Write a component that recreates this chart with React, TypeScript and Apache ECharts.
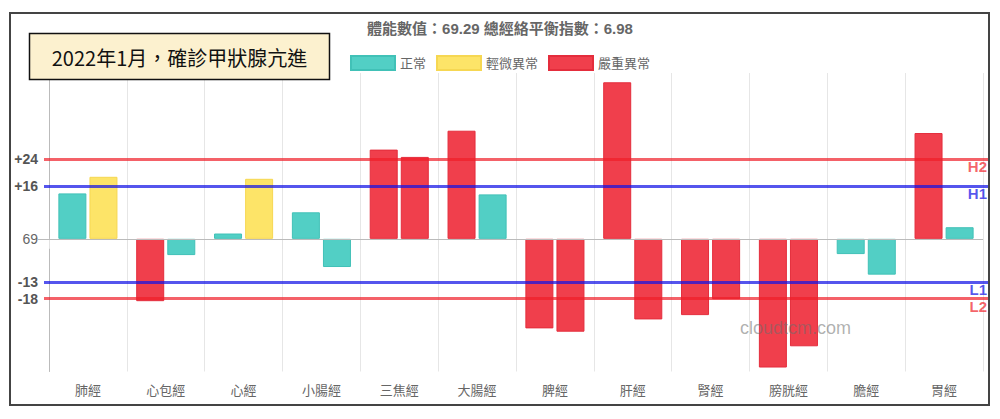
import React, { useEffect, useRef } from 'react';
import * as echarts from 'echarts';

const categories = ['肺經', '心包經', '心經', '小腸經', '三焦經', '大腸經', '脾經', '肝經', '腎經', '膀胱經', '膽經', '胃經'];
const leftValues = [13.7, -18.8, 1.6, 8.0, 26.9, 32.6, -27.0, 47.2, -23.0, -38.8, -4.6, 31.9];
const rightValues = [18.7, -4.9, 18.1, -8.5, 24.7, 13.4, -28.0, -24.3, -18.2, -32.4, -10.8, 3.5];
// 0 = 正常, 1 = 輕微異常, 2 = 嚴重異常
const leftStatus = [0, 2, 0, 0, 2, 2, 2, 2, 2, 2, 0, 2];
const rightStatus = [1, 0, 1, 0, 2, 0, 2, 2, 2, 2, 0, 0];
const statusNames = ['正常', '輕微異常', '嚴重異常'];
const statusColors = ['#52cfc5', '#fde468', '#f03f4c'];
const statusBorders = ['#41c1b7', '#f6d752', '#e42d3c'];
const thresholdValues = [24, 16, -13, -18];
const thresholdNames = ['H2', 'H1', 'L1', 'L2'];
const thresholdColors = ['rgba(240,30,40,0.7)', 'rgba(20,20,230,0.72)', 'rgba(20,20,230,0.72)', 'rgba(240,30,40,0.7)'];
const yTickValues = [-18, -13, 0, 16, 24];
const baseLabel = '69';
const headerText = '體能數值：69.29 總經絡平衡指數：6.98';
const boxText = '2022年1月，確診甲狀腺亢進';
const watermarkText = 'cloudtcm.com';
const yMin = -40;
const yMax = 50;

const FONT = "'Liberation Sans', Arial, 'Noto Sans CJK TC', sans-serif";

export default function App() {
  const ref = useRef<HTMLDivElement>(null);

  useEffect(() => {
    if (!ref.current) return;
    const chart = echarts.init(ref.current, undefined, { renderer: 'svg' });

    const sides = [
      { key: 'L', values: leftValues, status: leftStatus },
      { key: 'R', values: rightValues, status: rightStatus },
    ];
    const barSeries: any[] = [];
    sides.forEach((side) => {
      statusNames.forEach((name, s) => {
        barSeries.push({
          type: 'bar',
          name,
          stack: side.key,
          xAxisIndex: 0,
          yAxisIndex: 0,
          barWidth: 28,
          barGap: '11%',
          z: 2,
          itemStyle: { color: statusColors[s], borderColor: statusBorders[s], borderWidth: 1 },
          data: side.values.map((v, i) => (side.status[i] === s ? v : '-')),
        });
      });
    });

    const option: any = {
      animation: false,
      textStyle: { fontFamily: FONT },
      title: {
        text: headerText,
        left: 'center',
        top: 16,
        textStyle: { fontSize: 15, fontWeight: 'bold', color: '#666', fontFamily: FONT },
      },
      legend: {
        data: statusNames.map((n) => ({ name: n, icon: 'rect' })),
        top: 50,
        left: 'center',
        itemWidth: 44,
        itemHeight: 14,
        itemGap: 10,
        textStyle: { fontSize: 13, color: '#666', fontFamily: FONT },
      },
      grid: [
        { left: 49, right: 17, top: 73, bottom: 47.5 },
        { left: 44, right: 12, top: 73, bottom: 47.5 },
      ],
      xAxis: [
        {
          type: 'category',
          gridIndex: 0,
          data: categories,
          boundaryGap: true,
          axisLine: { show: true, lineStyle: { color: '#dcdcdc' } },
          axisTick: { show: true, length: 10, lineStyle: { color: '#e3e3e3' } },
          splitLine: { show: true, interval: 0, lineStyle: { color: '#e6e6e6' } },
          axisLabel: { fontSize: 13, color: '#666', margin: 12, interval: 0 },
        },
        { type: 'value', gridIndex: 1, show: false, min: 0, max: 1 },
      ],
      yAxis: [
        {
          type: 'value',
          gridIndex: 0,
          min: yMin,
          max: yMax,
          splitLine: { show: false },
          axisLine: { show: true, lineStyle: { color: '#bbb' } },
          axisTick: { show: true, customValues: [0], length: 11, lineStyle: { color: '#bbb' } },
          axisLabel: {
            customValues: yTickValues,
            margin: 11,
            formatter: (v: number) =>
              v === 0 ? '{n|' + baseLabel + '}' : '{b|' + (v > 0 ? '+' : '') + v + '}',
            rich: {
              b: { fontSize: 14, fontWeight: 'bold', color: '#555', fontFamily: FONT },
              n: { fontSize: 14, color: '#666', fontFamily: FONT },
            },
          },
        },
        { type: 'value', gridIndex: 1, show: false, min: yMin, max: yMax },
      ],
      series: [
        ...barSeries,
        {
          type: 'line',
          xAxisIndex: 0,
          yAxisIndex: 0,
          data: [],
          markLine: {
            symbol: 'none',
            silent: true,
            label: { show: false },
            lineStyle: { color: '#bbb', width: 1, type: 'solid' },
            data: [{ yAxis: 0 }],
          },
        },
        {
          type: 'line',
          xAxisIndex: 1,
          yAxisIndex: 1,
          data: [],
          z: 5,
          markLine: {
            symbol: 'none',
            silent: true,
            data: thresholdValues.map((v, i) => ({
              yAxis: v,
              lineStyle: { color: thresholdColors[i], width: 3, type: 'solid' },
              label: {
                show: true,
                formatter: thresholdNames[i],
                position: 'insideEndBottom',
                distance: [1, 0],
                color: thresholdColors[i],
                fontWeight: 'bold',
                fontSize: 15,
                fontFamily: FONT,
              },
            })),
          },
        },
      ],
      graphic: [
        {
          type: 'rect',
          z: 100,
          shape: { x: 10, y: 13, width: 979, height: 392 },
          style: { fill: 'none', stroke: '#444', lineWidth: 2 },
        },
        {
          type: 'rect',
          z: 100,
          shape: { x: 29.5, y: 33.5, width: 300, height: 46 },
          style: { fill: '#fcf1cf', stroke: '#111', lineWidth: 1.5 },
        },
        {
          type: 'text',
          z: 101,
          style: {
            text: boxText,
            x: 179.5,
            y: 57,
            align: 'center',
            verticalAlign: 'middle',
            fontSize: 20,
            fill: '#111',
            fontFamily: "'Noto Sans CJK TC', sans-serif",
          },
        },
        {
          type: 'text',
          z: 101,
          style: {
            text: watermarkText,
            x: 740,
            y: 328,
            verticalAlign: 'middle',
            fontSize: 18,
            fill: 'rgba(110,110,110,0.55)',
            fontFamily: FONT,
          },
        },
      ],
    };

    chart.setOption(option);
    return () => chart.dispose();
  }, []);

  return (
    <div
      ref={ref}
      style={{ position: 'absolute', left: 0, top: 0, width: 1000, height: 419, background: '#fff' }}
    />
  );
}
